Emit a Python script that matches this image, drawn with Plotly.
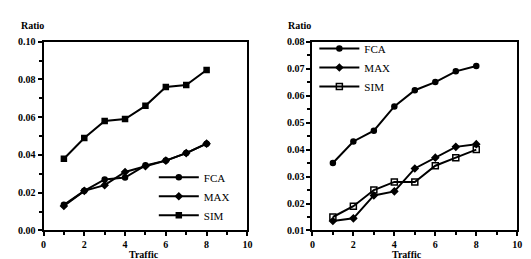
import plotly.graph_objects as go

traffic = [1, 2, 3, 4, 5, 6, 7, 8]

# Left panel
left_fca = [0.0136, 0.021, 0.027, 0.028, 0.0345, 0.037, 0.041, 0.046]
left_max = [0.013, 0.021, 0.024, 0.031, 0.034, 0.037, 0.041, 0.046]
left_sim = [0.038, 0.049, 0.058, 0.059, 0.066, 0.076, 0.077, 0.085]

# Right panel
right_fca = [0.035, 0.043, 0.047, 0.056, 0.062, 0.065, 0.069, 0.071]
right_max = [0.0135, 0.0145, 0.023, 0.0245, 0.033, 0.037, 0.041, 0.042]
right_sim = [0.015, 0.019, 0.025, 0.028, 0.028, 0.034, 0.037, 0.040]

x_ticks = [0, 2, 4, 6, 8, 10]
left_y_ticks = [0.00, 0.02, 0.04, 0.06, 0.08, 0.10]
right_y_ticks = [0.01, 0.02, 0.03, 0.04, 0.05, 0.06, 0.07, 0.08]

FONT = "Liberation Serif"
W, H = 531, 259

fig = go.Figure()

def add(x, y, name, symbol, xa, ya, legend, open_=False, size=6):
    fig.add_trace(go.Scatter(
        x=x, y=y, name=name, mode="lines+markers",
        xaxis=xa, yaxis=ya, legend=legend,
        line=dict(color="black", width=2),
        marker=dict(symbol=symbol + ("-open" if open_ else ""), size=size, color="black",
                    line=dict(color="black", width=1.5)),
    ))

add(traffic, left_fca, "FCA", "circle", "x", "y", "legend", size=5)
add(traffic, left_max, "MAX", "diamond", "x", "y", "legend", size=5)
add(traffic, left_sim, "SIM", "square", "x", "y", "legend", size=5)

add(traffic, right_fca, "FCA", "circle", "x2", "y2", "legend2", size=5)
add(traffic, right_max, "MAX", "diamond", "x2", "y2", "legend2", size=5)
add(traffic, right_sim, "SIM", "square", "x2", "y2", "legend2", open_=True, size=6)

def px_x(p):
    return p / W

def px_y(p):
    return 1 - p / H

axis_common = dict(
    showline=True, linewidth=2, linecolor="black", mirror=True,
    ticks="outside", ticklen=4, tickwidth=1.5, tickcolor="black",
    showgrid=False, zeroline=False,
    tickfont=dict(family=FONT, size=10, color="black", weight="bold"),
)

fig.update_layout(
    width=W, height=H,
    margin=dict(l=0, r=0, t=0, b=0),
    paper_bgcolor="white", plot_bgcolor="white",
    showlegend=True,
    xaxis=dict(domain=[px_x(33), px_x(240)], range=[0, 10], tickvals=x_ticks,
               minor=dict(dtick=1, ticklen=3, ticks="outside", tickcolor="black"),
               anchor="y", **axis_common),
    yaxis=dict(domain=[px_y(227), px_y(29)], range=[0, 0.10], tickvals=left_y_ticks,
               tickformat=".2f",
               minor=dict(dtick=0.01, ticklen=3, ticks="outside", tickcolor="black"),
               anchor="x", **axis_common),
    xaxis2=dict(domain=[px_x(306), px_x(514)], range=[0, 10], tickvals=x_ticks,
                minor=dict(dtick=1, ticklen=3, ticks="outside", tickcolor="black"),
                anchor="y2", **axis_common),
    yaxis2=dict(domain=[px_y(227), px_y(29)], range=[0.01, 0.08], tickvals=right_y_ticks,
                tickformat=".2f",
                minor=dict(dtick=0.005, ticklen=3, ticks="outside", tickcolor="black"),
                anchor="x2", **axis_common),
    legend=dict(x=px_x(145), y=px_y(156), xanchor="left", yanchor="top",
                bgcolor="rgba(0,0,0,0)", font=dict(family=FONT, size=11, color="black"),
                itemwidth=40, tracegroupgap=0),
    legend2=dict(x=px_x(308), y=px_y(21), xanchor="left", yanchor="top",
                 bgcolor="rgba(0,0,0,0)", font=dict(family=FONT, size=11, color="black"),
                 itemwidth=40, tracegroupgap=0),
)

ann_font = dict(family=FONT, size=10, color="black", weight="bold")
for xc, t in [(22, "Ratio"), (293, "Ratio")]:
    fig.add_annotation(text=t, x=px_x(xc), y=px_y(12), xref="paper", yref="paper",
                       showarrow=False, font=ann_font, xanchor="center", yanchor="middle")
for xc in [135, 402]:
    fig.add_annotation(text="Traffic", x=px_x(xc), y=px_y(252), xref="paper", yref="paper",
                       showarrow=False, font=ann_font, xanchor="center", yanchor="middle")

fig.write_html("out.html")
